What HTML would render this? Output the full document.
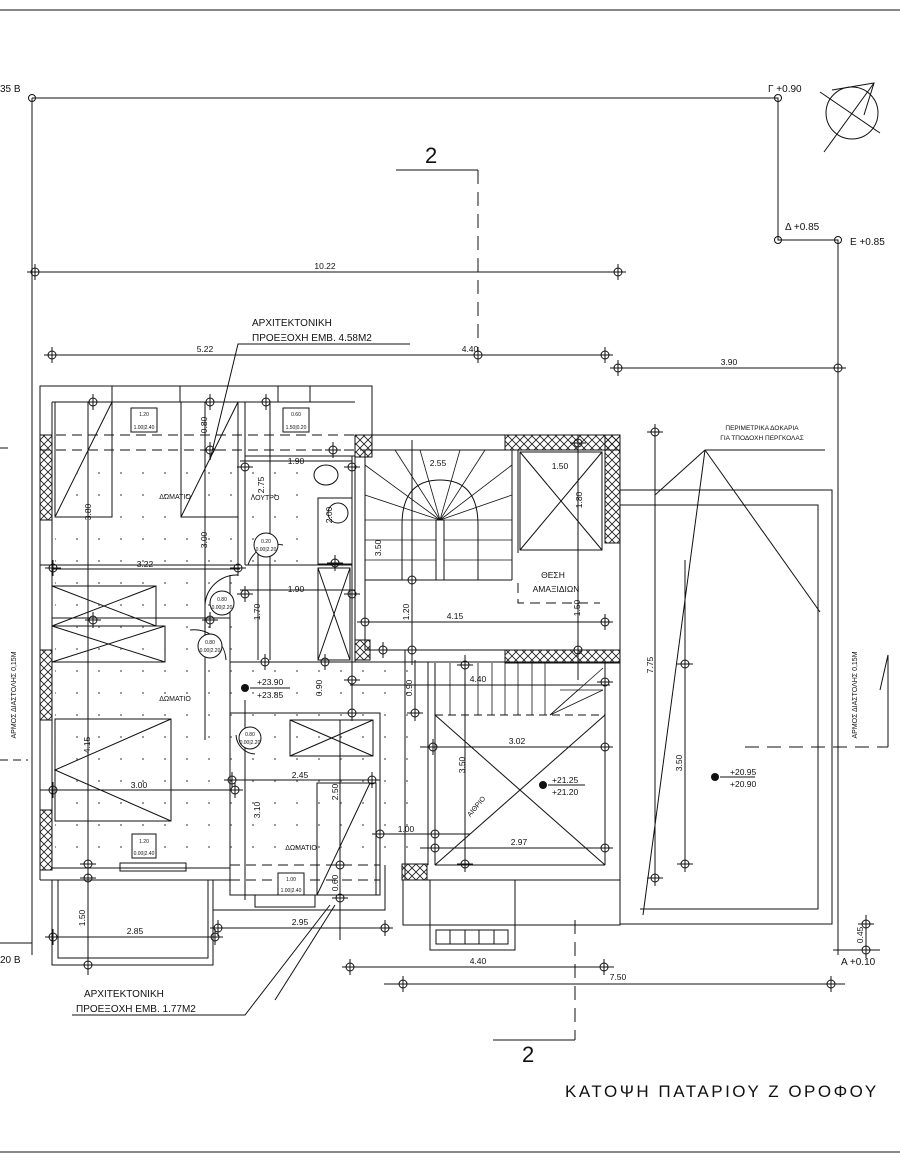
<!DOCTYPE html>
<html><head><meta charset="utf-8"><style>
html,body{margin:0;padding:0;background:#fff;}
svg{display:block;font-family:"Liberation Sans",sans-serif;}
text{fill:#111;}
</style></head><body>
<svg width="900" height="1158" viewBox="0 0 900 1158" xmlns="http://www.w3.org/2000/svg">
<defs>
<pattern id="hatch" width="8" height="8" patternUnits="userSpaceOnUse">
<path d="M0 0L8 8M8 0L0 8" stroke="#222" stroke-width="0.9"/>
</pattern>
<pattern id="dots" width="22" height="22" patternUnits="userSpaceOnUse">
<circle cx="11" cy="11" r="0.9" fill="#555"/>
</pattern>
<symbol id="m" viewBox="-9 -9 18 18" overflow="visible">
<circle r="4" fill="none" stroke="#111" stroke-width="1"/>
<path d="M-8 0H8M0 -8V8" stroke="#111" stroke-width="1"/>
</symbol>
</defs>
<g stroke="#111" stroke-width="1" fill="none">
<line x1="0" y1="10" x2="900" y2="10"/>
<line x1="0" y1="1152" x2="900" y2="1152"/>
<polyline points="32,98 778,98 778,240 838,240 838,955"/>
<line x1="32" y1="98" x2="32" y2="955"/>
<circle cx="32" cy="98" r="3.5"/><circle cx="778" cy="98" r="3.5"/><circle cx="778" cy="240" r="3.5"/><circle cx="838" cy="240" r="3.5"/>
<circle cx="852" cy="113" r="26"/>
<line x1="820" y1="92" x2="880" y2="133"/>
<line x1="824" y1="152" x2="874" y2="83"/>
<polyline points="832,90 874,83 864,115"/>
<polyline points="396,170 478,170"/>
<line x1="478" y1="170" x2="478" y2="340" stroke-dasharray="14,8"/>
<line x1="30" y1="272" x2="625" y2="272"/>
<line x1="44" y1="355" x2="612" y2="355"/>
<line x1="612" y1="368" x2="846" y2="368"/>
<polyline points="210,460 238,344 410,344"/>
<polyline points="40,880 40,386 372,386 372,440"/>
<line x1="52" y1="402" x2="355" y2="402"/>
<line x1="52" y1="402" x2="52" y2="868"/>
<line x1="40" y1="880" x2="230" y2="880"/>
<line x1="52" y1="868" x2="230" y2="868"/>
<rect x="112" y="386" width="68" height="16"/>
<rect x="278" y="386" width="32" height="16"/>
<line x1="40" y1="435" x2="372" y2="435" stroke-dasharray="10,6"/>
<line x1="40" y1="450" x2="372" y2="450" stroke-dasharray="10,6"/>
<polyline points="55,402 55,517 112,517 112,402"/>
<polyline points="181,402 181,517 238,517 238,402"/>
<line x1="55" y1="517" x2="112" y2="402"/><line x1="181" y1="517" x2="238" y2="402"/>
<line x1="238" y1="402" x2="238" y2="565"/>
<line x1="245" y1="402" x2="245" y2="565"/>
<line x1="52" y1="569" x2="240" y2="569"/>
<line x1="245" y1="456" x2="355" y2="456"/>
<rect x="318" y="498" width="34" height="66"/>
<ellipse cx="326" cy="475" rx="12" ry="10"/>
<circle cx="338" cy="513" r="10"/>
<line x1="245" y1="565" x2="352" y2="565"/>
<line x1="352" y1="456" x2="352" y2="660"/>
<line x1="355" y1="435" x2="355" y2="662"/>
<rect x="318" y="568" width="32" height="92"/>
<line x1="318" y1="568" x2="350" y2="660"/><line x1="350" y1="568" x2="318" y2="660"/>
<path d="M248 565 A30 30 0 0 1 283 545" />
<rect x="52" y="586" width="104" height="40"/>
<line x1="52" y1="586" x2="156" y2="626"/><line x1="52" y1="626" x2="156" y2="586"/>
<rect x="52" y="626" width="113" height="36"/>
<line x1="52" y1="626" x2="165" y2="662"/><line x1="52" y1="662" x2="165" y2="626"/>
<line x1="52" y1="618" x2="230" y2="618"/>
<line x1="230" y1="575" x2="230" y2="713"/>
<path d="M238 575 A32 32 0 0 0 205 605"/>
<path d="M190 630 A32 32 0 0 1 226 660"/>
<rect x="55" y="719" width="116" height="102"/>
<polyline points="171,719 55,770 171,821"/>
<rect x="120" y="863" width="66" height="8"/>
<rect x="52" y="880" width="161" height="85"/>
<rect x="58" y="880" width="150" height="78"/>
<rect x="230" y="713" width="150" height="182"/>
<rect x="290" y="720" width="83" height="36"/>
<line x1="290" y1="720" x2="373" y2="756"/><line x1="290" y1="756" x2="373" y2="720"/>
<rect x="317" y="783" width="59" height="112"/>
<line x1="317" y1="895" x2="370" y2="783"/>
<line x1="230" y1="865" x2="380" y2="865" stroke-dasharray="10,6"/>
<line x1="230" y1="880" x2="380" y2="880" stroke-dasharray="10,6"/>
<rect x="255" y="895" width="60" height="12"/>
<polyline points="213,918 213,910 385,910 385,865"/>
<line x1="213" y1="910" x2="213" y2="965"/>
<line x1="335" y1="905" x2="275" y2="1000"/>
<path d="M236 735 A20 20 0 0 0 255 754" />
<line x1="230" y1="662" x2="352" y2="662"/>
<line x1="352" y1="662" x2="428" y2="662"/>
<line x1="380" y1="713" x2="380" y2="865"/>
<line x1="428" y1="662" x2="428" y2="865"/>
<rect x="355" y="435" width="265" height="227"/>
<line x1="365" y1="450" x2="365" y2="650"/>
<line x1="365" y1="450" x2="512" y2="450"/>
<line x1="365" y1="580" x2="512" y2="580"/>
<line x1="512" y1="450" x2="512" y2="580"/>
<line x1="518" y1="450" x2="518" y2="553"/>
<line x1="365" y1="650" x2="620" y2="650"/>
<rect x="520" y="452" width="82" height="98"/>
<line x1="520" y1="452" x2="602" y2="550"/><line x1="602" y1="452" x2="520" y2="550"/>
<polyline points="518,583 518,603 600,603" stroke-dasharray="10,6"/>
<path d="M402 580 V525 Q402 480 440 480 Q478 480 478 525 V580"/>
<rect x="436" y="520" width="8" height="60"/>
<g stroke-width="0.8">
<line x1="440" y1="520" x2="365" y2="465"/><line x1="440" y1="520" x2="365" y2="495"/>
<line x1="440" y1="520" x2="365" y2="520"/><line x1="440" y1="520" x2="395" y2="450"/>
<line x1="440" y1="520" x2="420" y2="450"/><line x1="440" y1="520" x2="460" y2="450"/>
<line x1="440" y1="520" x2="485" y2="450"/><line x1="440" y1="520" x2="512" y2="465"/>
<line x1="440" y1="520" x2="512" y2="495"/><line x1="440" y1="520" x2="512" y2="520"/>
<line x1="365" y1="540" x2="436" y2="540"/><line x1="365" y1="560" x2="436" y2="560"/>
<line x1="444" y1="540" x2="512" y2="540"/><line x1="444" y1="560" x2="512" y2="560"/>
</g>
<rect x="405" y="650" width="215" height="230"/>
<line x1="435" y1="663" x2="435" y2="865"/>
<line x1="435" y1="715" x2="605" y2="715" stroke-dasharray="8,5"/>
<line x1="605" y1="663" x2="605" y2="865"/>
<line x1="435" y1="865" x2="605" y2="865"/>
<line x1="435" y1="715" x2="605" y2="865"/><line x1="605" y1="715" x2="435" y2="865"/>
<g stroke-width="0.8">
<line x1="450" y1="663" x2="450" y2="715"/><line x1="465" y1="663" x2="465" y2="715"/>
<line x1="478" y1="663" x2="478" y2="715"/><line x1="492" y1="663" x2="492" y2="715"/>
<line x1="505" y1="663" x2="505" y2="715"/><line x1="518" y1="663" x2="518" y2="715"/>
<line x1="532" y1="663" x2="532" y2="715"/><line x1="545" y1="663" x2="545" y2="715"/>
<line x1="550" y1="715" x2="603" y2="668"/><line x1="550" y1="715" x2="603" y2="690"/>
<line x1="550" y1="715" x2="578" y2="690"/><line x1="560" y1="690" x2="603" y2="690"/>
</g>
<rect x="403" y="880" width="217" height="45"/>
<rect x="430" y="880" width="85" height="70"/>
<rect x="436" y="930" width="72" height="14"/>
<line x1="450" y1="930" x2="450" y2="944"/><line x1="465" y1="930" x2="465" y2="944"/>
<line x1="479" y1="930" x2="479" y2="944"/><line x1="494" y1="930" x2="494" y2="944"/>
<line x1="575" y1="920" x2="575" y2="1040" stroke-dasharray="14,8"/>
<line x1="493" y1="1040" x2="575" y2="1040"/>
<polyline points="620,490 832,490 832,924 620,924 620,880"/>
<polyline points="620,505 818,505 818,909 640,909"/>
<line x1="655" y1="495" x2="705" y2="450"/>
<line x1="705" y1="450" x2="820" y2="612"/>
<line x1="705" y1="450" x2="643" y2="915"/>
<line x1="705" y1="450" x2="825" y2="450"/>
<line x1="745" y1="747" x2="888" y2="747" stroke-dasharray="14,8"/>
<polyline points="888,747 888,655 880,690"/>
<line x1="52" y1="937" x2="222" y2="937"/>
<line x1="213" y1="928" x2="388" y2="928"/>
<line x1="342" y1="967" x2="614" y2="967"/>
<line x1="384" y1="984" x2="845" y2="984"/>
<polyline points="72,1015 245,1015 330,905"/>
<line x1="0" y1="943" x2="32" y2="943"/>
<line x1="833" y1="950" x2="880" y2="950"/>
<line x1="866" y1="915" x2="866" y2="955"/>
<line x1="88" y1="402" x2="88" y2="975"/>
<line x1="205" y1="402" x2="205" y2="740"/>
<line x1="270" y1="402" x2="270" y2="660"/>
<line x1="258" y1="540" x2="258" y2="660"/>
<line x1="412" y1="440" x2="412" y2="665"/>
<line x1="465" y1="655" x2="465" y2="870"/>
<line x1="578" y1="445" x2="578" y2="680"/>
<line x1="655" y1="425" x2="655" y2="875"/>
<line x1="685" y1="560" x2="685" y2="870"/>
<line x1="245" y1="700" x2="245" y2="900"/>
<line x1="340" y1="720" x2="340" y2="940"/>
<line x1="352" y1="660" x2="352" y2="710"/>
<line x1="415" y1="660" x2="415" y2="710"/>
<line x1="240" y1="461" x2="352" y2="461"/>
<line x1="40" y1="565" x2="240" y2="565"/>
<line x1="240" y1="590" x2="355" y2="590"/>
<line x1="360" y1="622" x2="610" y2="622"/>
<line x1="350" y1="685" x2="610" y2="685"/>
<line x1="40" y1="790" x2="240" y2="790"/>
<line x1="230" y1="780" x2="380" y2="780"/>
<line x1="375" y1="834" x2="470" y2="834"/>
<line x1="420" y1="747" x2="612" y2="747"/>
<line x1="420" y1="848" x2="612" y2="848"/>
<line x1="0" y1="760" x2="28" y2="760" stroke-dasharray="8,5"/>
<line x1="0" y1="448" x2="8" y2="448"/>
</g>
<rect x="55" y="455" width="180" height="400" fill="url(#dots)"/>
<rect x="245" y="470" width="70" height="95" fill="url(#dots)"/>
<rect x="240" y="665" width="185" height="200" fill="url(#dots)"/>
<g fill="url(#hatch)" stroke="#111">
<rect x="40" y="435" width="12" height="85"/>
<rect x="40" y="650" width="12" height="70"/>
<rect x="40" y="810" width="12" height="60"/>
<rect x="355" y="435" width="17" height="22"/>
<rect x="355" y="640" width="15" height="20"/>
<rect x="505" y="435" width="115" height="15"/>
<rect x="605" y="435" width="15" height="108"/>
<rect x="505" y="650" width="115" height="13"/>
<rect x="402" y="864" width="25" height="16"/>
</g>
<g stroke="#111" fill="#fff" stroke-width="1">
<rect x="131" y="408" width="26" height="24"/><rect x="283" y="408" width="26" height="24"/>
<rect x="132" y="834" width="24" height="24"/><rect x="278" y="873" width="26" height="22"/>
<circle cx="266" cy="545" r="12"/><circle cx="222" cy="603" r="12"/><circle cx="210" cy="646" r="12"/><circle cx="250" cy="738" r="11"/>
</g>
<g font-size="5" text-anchor="middle">
<text x="144" y="416">1.20</text><text x="144" y="429">1.00|2.40</text>
<text x="296" y="416">0.60</text><text x="296" y="429">1.50|0.20</text>
<text x="144" y="843">1.20</text><text x="144" y="855">0.00|2.40</text>
<text x="291" y="881">1.00</text><text x="291" y="892">1.00|2.40</text>
<text x="266" y="543">0.20</text><text x="266" y="551">0.00|2.20</text>
<text x="222" y="601">0.80</text><text x="222" y="609">0.00|2.20</text>
<text x="210" y="644">0.80</text><text x="210" y="652">0.00|2.20</text>
<text x="250" y="736">0.80</text><text x="250" y="744">0.00|2.20</text>
</g>
<g>
<use href="#m" x="35" y="272" width="18" height="18" transform="translate(-9,-9)"/>
<use href="#m" x="618" y="272" width="18" height="18" transform="translate(-9,-9)"/>
<use href="#m" x="52" y="355" width="18" height="18" transform="translate(-9,-9)"/>
<use href="#m" x="478" y="355" width="18" height="18" transform="translate(-9,-9)"/>
<use href="#m" x="605" y="355" width="18" height="18" transform="translate(-9,-9)"/>
<use href="#m" x="618" y="368" width="18" height="18" transform="translate(-9,-9)"/>
<use href="#m" x="838" y="368" width="18" height="18" transform="translate(-9,-9)"/>
<use href="#m" x="93" y="402" width="18" height="18" transform="translate(-9,-9)"/>
<use href="#m" x="210" y="402" width="18" height="18" transform="translate(-9,-9)"/>
<use href="#m" x="266" y="402" width="18" height="18" transform="translate(-9,-9)"/>
<use href="#m" x="210" y="450" width="18" height="18" transform="translate(-9,-9)"/>
<use href="#m" x="333" y="450" width="18" height="18" transform="translate(-9,-9)"/>
<use href="#m" x="245" y="467" width="18" height="18" transform="translate(-9,-9)"/>
<use href="#m" x="352" y="467" width="18" height="18" transform="translate(-9,-9)"/>
<use href="#m" x="53" y="568" width="18" height="18" transform="translate(-9,-9)"/>
<use href="#m" x="238" y="568" width="18" height="18" transform="translate(-9,-9)"/>
<use href="#m" x="335" y="563" width="18" height="18" transform="translate(-9,-9)"/>
<use href="#m" x="245" y="594" width="18" height="18" transform="translate(-9,-9)"/>
<use href="#m" x="352" y="594" width="18" height="18" transform="translate(-9,-9)"/>
<use href="#m" x="93" y="620" width="18" height="18" transform="translate(-9,-9)"/>
<use href="#m" x="210" y="620" width="18" height="18" transform="translate(-9,-9)"/>
<use href="#m" x="265" y="662" width="18" height="18" transform="translate(-9,-9)"/>
<use href="#m" x="325" y="662" width="18" height="18" transform="translate(-9,-9)"/>
<use href="#m" x="412" y="580" width="18" height="18" transform="translate(-9,-9)"/>
<use href="#m" x="365" y="622" width="18" height="18" transform="translate(-9,-9)"/>
<use href="#m" x="605" y="622" width="18" height="18" transform="translate(-9,-9)"/>
<use href="#m" x="412" y="650" width="18" height="18" transform="translate(-9,-9)"/>
<use href="#m" x="383" y="650" width="18" height="18" transform="translate(-9,-9)"/>
<use href="#m" x="578" y="650" width="18" height="18" transform="translate(-9,-9)"/>
<use href="#m" x="578" y="443" width="18" height="18" transform="translate(-9,-9)"/>
<use href="#m" x="655" y="432" width="18" height="18" transform="translate(-9,-9)"/>
<use href="#m" x="685" y="664" width="18" height="18" transform="translate(-9,-9)"/>
<use href="#m" x="685" y="864" width="18" height="18" transform="translate(-9,-9)"/>
<use href="#m" x="655" y="878" width="18" height="18" transform="translate(-9,-9)"/>
<use href="#m" x="352" y="680" width="18" height="18" transform="translate(-9,-9)"/>
<use href="#m" x="465" y="665" width="18" height="18" transform="translate(-9,-9)"/>
<use href="#m" x="605" y="682" width="18" height="18" transform="translate(-9,-9)"/>
<use href="#m" x="352" y="713" width="18" height="18" transform="translate(-9,-9)"/>
<use href="#m" x="415" y="713" width="18" height="18" transform="translate(-9,-9)"/>
<use href="#m" x="53" y="790" width="18" height="18" transform="translate(-9,-9)"/>
<use href="#m" x="235" y="790" width="18" height="18" transform="translate(-9,-9)"/>
<use href="#m" x="232" y="780" width="18" height="18" transform="translate(-9,-9)"/>
<use href="#m" x="372" y="780" width="18" height="18" transform="translate(-9,-9)"/>
<use href="#m" x="433" y="747" width="18" height="18" transform="translate(-9,-9)"/>
<use href="#m" x="605" y="747" width="18" height="18" transform="translate(-9,-9)"/>
<use href="#m" x="380" y="834" width="18" height="18" transform="translate(-9,-9)"/>
<use href="#m" x="435" y="834" width="18" height="18" transform="translate(-9,-9)"/>
<use href="#m" x="435" y="848" width="18" height="18" transform="translate(-9,-9)"/>
<use href="#m" x="605" y="848" width="18" height="18" transform="translate(-9,-9)"/>
<use href="#m" x="465" y="864" width="18" height="18" transform="translate(-9,-9)"/>
<use href="#m" x="88" y="864" width="18" height="18" transform="translate(-9,-9)"/>
<use href="#m" x="88" y="878" width="18" height="18" transform="translate(-9,-9)"/>
<use href="#m" x="340" y="865" width="18" height="18" transform="translate(-9,-9)"/>
<use href="#m" x="340" y="898" width="18" height="18" transform="translate(-9,-9)"/>
<use href="#m" x="53" y="937" width="18" height="18" transform="translate(-9,-9)"/>
<use href="#m" x="215" y="937" width="18" height="18" transform="translate(-9,-9)"/>
<use href="#m" x="218" y="928" width="18" height="18" transform="translate(-9,-9)"/>
<use href="#m" x="385" y="928" width="18" height="18" transform="translate(-9,-9)"/>
<use href="#m" x="88" y="965" width="18" height="18" transform="translate(-9,-9)"/>
<use href="#m" x="350" y="967" width="18" height="18" transform="translate(-9,-9)"/>
<use href="#m" x="604" y="967" width="18" height="18" transform="translate(-9,-9)"/>
<use href="#m" x="403" y="984" width="18" height="18" transform="translate(-9,-9)"/>
<use href="#m" x="831" y="984" width="18" height="18" transform="translate(-9,-9)"/>
<use href="#m" x="866" y="924" width="18" height="18" transform="translate(-9,-9)"/>
<use href="#m" x="866" y="950" width="18" height="18" transform="translate(-9,-9)"/>
</g>
<g fill="#111"><circle cx="245" cy="688" r="4"/><circle cx="543" cy="785" r="4"/><circle cx="715" cy="777" r="4"/></g>
<g stroke="#111"><line x1="250" y1="688" x2="290" y2="688"/><line x1="548" y1="785" x2="585" y2="785"/><line x1="720" y1="777" x2="755" y2="777"/></g>
<g font-size="10">
<text x="0" y="92">35 B</text>
<text x="768" y="92">Γ +0.90</text>
<text x="785" y="230">Δ +0.85</text>
<text x="850" y="245">Ε +0.85</text>
<text x="0" y="963">20 B</text>
<text x="841" y="965">Α +0.10</text>
<text x="252" y="326">ΑΡΧΙΤΕΚΤΟΝΙΚΗ</text>
<text x="252" y="341">ΠΡΟΕΞΟΧΗ  ΕΜΒ. 4.58Μ2</text>
<text x="84" y="997">ΑΡΧΙΤΕΚΤΟΝΙΚΗ</text>
<text x="76" y="1012">ΠΡΟΕΞΟΧΗ  ΕΜΒ. 1.77Μ2</text>
</g>
<text x="425" y="163" font-size="22">2</text>
<text x="522" y="1062" font-size="22">2</text>
<text x="565" y="1097" font-size="17" letter-spacing="2.5">ΚΑΤΟΨΗ ΠΑΤΑΡΙΟΥ Ζ ΟΡΟΦΟΥ</text>
<g font-size="8.5" text-anchor="middle">
<text x="325" y="269">10.22</text>
<text x="205" y="352">5.22</text>
<text x="470" y="352">4.40</text>
<text x="729" y="365">3.90</text>
<text x="296" y="464">1.90</text>
<text x="438" y="466">2.55</text>
<text x="560" y="469">1.50</text>
<text x="145" y="567">3.22</text>
<text x="296" y="592">1.90</text>
<text x="455" y="619">4.15</text>
<text x="478" y="682">4.40</text>
<text x="517" y="744">3.02</text>
<text x="139" y="788">3.00</text>
<text x="300" y="778">2.45</text>
<text x="406" y="832">1.00</text>
<text x="519" y="845">2.97</text>
<text x="135" y="934">2.85</text>
<text x="300" y="925">2.95</text>
<text x="478" y="964">4.40</text>
<text x="618" y="980">7.50</text>
<text x="553" y="578">ΘΕΣΗ</text>
<text x="556" y="592">ΑΜΑΞΙΔΙΩΝ</text>
<text x="762" y="430" font-size="6.5">ΠΕΡΙΜΕΤΡΙΚΑ ΔΟΚΑΡΙΑ</text>
<text x="762" y="440" font-size="6.5">ΓΙΑ ΤΠΟΔΟΧΗ ΠΕΡΓΚΟΛΑΣ</text>
<text x="175" y="499" font-size="7">ΔΩΜΑΤΙΟ</text>
<text x="265" y="500" font-size="7">ΛΟΥΤΡΟ</text>
<text x="175" y="701" font-size="7">ΔΩΜΑΤΙΟ</text>
<text x="301" y="850" font-size="7">ΔΩΜΑΤΙΟ</text>
</g>
<g font-size="8.5" text-anchor="start">
<text x="257" y="685">+23.90</text>
<text x="257" y="698">+23.85</text>
<text x="552" y="783">+21.25</text><text x="552" y="795">+21.20</text>
<text x="730" y="775">+20.95</text><text x="730" y="787">+20.90</text>
</g>
<g font-size="8.5" text-anchor="middle">
<text transform="translate(91,512) rotate(-90)">3.80</text>
<text transform="translate(207,425) rotate(-90)">0.80</text>
<text transform="translate(207,540) rotate(-90)">3.00</text>
<text transform="translate(264,485) rotate(-90)">2.75</text>
<text transform="translate(332,515) rotate(-90)">2.00</text>
<text transform="translate(381,548) rotate(-90)">3.50</text>
<text transform="translate(409,612) rotate(-90)">1.20</text>
<text transform="translate(580,608) rotate(-90)">1.50</text>
<text transform="translate(582,500) rotate(-90)">1.80</text>
<text transform="translate(260,612) rotate(-90)">1.70</text>
<text transform="translate(322,688) rotate(-90)">0.90</text>
<text transform="translate(412,688) rotate(-90)">0.90</text>
<text transform="translate(90,745) rotate(-90)">4.15</text>
<text transform="translate(260,810) rotate(-90)">3.10</text>
<text transform="translate(338,792) rotate(-90)">2.50</text>
<text transform="translate(338,883) rotate(-90)">0.60</text>
<text transform="translate(465,765) rotate(-90)">3.50</text>
<text transform="translate(653,665) rotate(-90)">7.75</text>
<text transform="translate(682,763) rotate(-90)">3.50</text>
<text transform="translate(85,918) rotate(-90)">1.50</text>
<text transform="translate(863,935) rotate(-90)">0.45</text>
<text transform="translate(16,695) rotate(-90)" font-size="7">ΑΡΜΟΣ ΔΙΑΣΤΟΛΗΣ 0,15Μ</text>
<text transform="translate(857,695) rotate(-90)" font-size="7">ΑΡΜΟΣ ΔΙΑΣΤΟΛΗΣ 0,15Μ</text>
<text transform="translate(478,808) rotate(-50)" font-size="7">ΑΙΘΡΙΟ</text>
</g>
</svg>
</body></html>
